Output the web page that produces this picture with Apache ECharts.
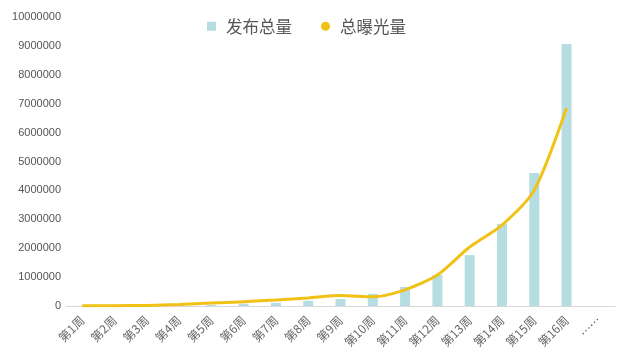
<!DOCTYPE html>
<html><head><meta charset="utf-8">
<script src="https://cdn.jsdelivr.net/npm/echarts@6/dist/echarts.min.js"></script>
<style>html,body{margin:0;padding:0;background:#fff}#c{width:620px;height:353px}</style>
</head><body><div id="c"></div>
<script>
var categories = ['第1周','第2周','第3周','第4周','第5周','第6周','第7周','第8周','第9周','第10周','第11周','第12周','第13周','第14周','第15周','第16周','……'];
var publishTotal = [5000,10000,15000,25000,40000,80000,110000,180000,240000,420000,660000,1070000,1760000,2840000,4600000,9070000,null];
var exposureTotal = [5000,10000,20000,50000,100000,150000,210000,280000,360000,320000,560000,1070000,2040000,2800000,4010000,6850000,null];
var yTicks = {min:0, max:10000000, interval:1000000};

var chart = echarts.init(document.getElementById('c'));
chart.setOption({
  animation:false,
  textStyle:{fontFamily:'"Noto Sans CJK SC", "Liberation Sans", sans-serif'},
  legend:{
    top:13, left:202, itemGap:29, itemWidth:9, itemHeight:9,
    textStyle:{fontSize:16.5, color:'#555', padding:[0,0,0,5]},
    data:[{name:'发布总量', icon:'rect'},{name:'总曝光量', icon:'circle'}]
  },
  grid:{left:66, right:5, top:17, bottom:47},
  xAxis:{
    type:'category', data:categories,
    axisLine:{lineStyle:{color:'#d9d9d9'}},
    axisTick:{show:false},
    axisLabel:{rotate:45, fontSize:12, color:'#666', margin:12, interval:0}
  },
  yAxis:{
    type:'value', min:yTicks.min, max:yTicks.max, interval:yTicks.interval,
    axisLine:{show:false}, axisTick:{show:false}, splitLine:{show:false},
    axisLabel:{fontSize:11, color:'#555', margin:5, fontFamily:'"Liberation Sans", Arial, sans-serif',
      formatter:function(v){return String(v);}}
  },
  series:[
    {name:'发布总量', type:'bar', data:publishTotal, barWidth:10, itemStyle:{color:'#b6dde1'}},
    {name:'总曝光量', type:'line', data:exposureTotal, smooth:0.25, symbol:'none', symbolSize:6,
     lineStyle:{color:'#f2c116', width:3}, itemStyle:{color:'#f2c116'}}
  ]
});
</script></body></html>
